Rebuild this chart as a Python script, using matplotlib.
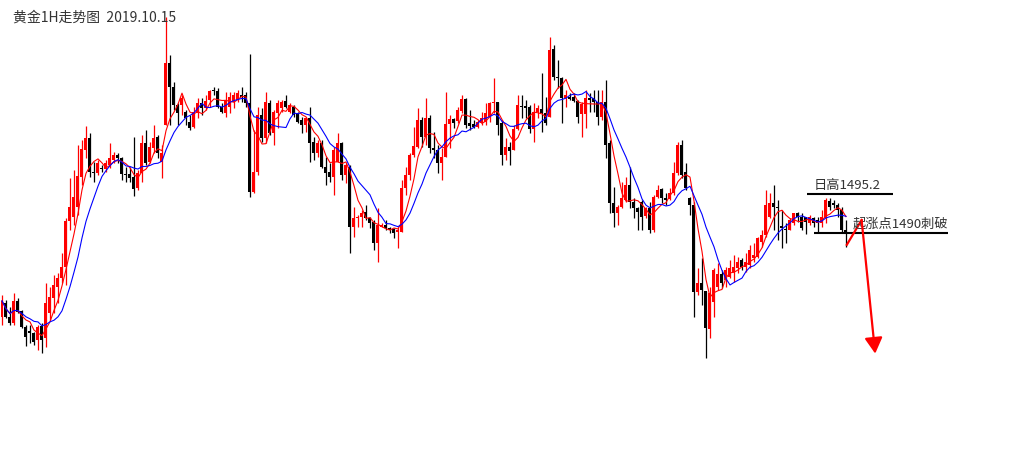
import matplotlib
matplotlib.use("Agg")
import matplotlib.pyplot as plt
import numpy as np
import pandas as pd

plt.rcParams['font.family'] = ['Noto Sans CJK SC', 'DejaVu Sans']

# gold 1H candles (one per hour)
opens = [
    1479.5, 1481.2, 1479.5, 1478.7, 1481.5, 1480.2, 1478.2, 1477.7, 1477.5, 1476.6,
    1478.4, 1476.9, 1480.0, 1481.9, 1483.2, 1484.4, 1485.7, 1491.5, 1492.0, 1493.2,
    1497.0, 1500.4, 1501.9, 1497.6, 1497.5, 1498.1, 1498.0, 1498.5, 1499.1, 1499.7,
    1499.4, 1497.4, 1497.4, 1497.0, 1495.6, 1497.5, 1501.2, 1498.9, 1500.6, 1502.0,
    1498.9, 1503.5, 1511.2, 1508.2, 1506.0, 1506.0, 1505.1, 1503.9, 1503.2, 1505.0,
    1506.2, 1505.6, 1506.6, 1507.9, 1507.7, 1505.7, 1505.0, 1505.7, 1506.4, 1506.6,
    1507.2, 1507.2, 1506.2, 1495.1, 1497.6, 1504.7, 1501.9, 1506.2, 1502.5, 1505.0,
    1505.6, 1506.5, 1505.1, 1505.7, 1505.0, 1504.1, 1503.5, 1504.4, 1501.4, 1500.0,
    1501.2, 1498.2, 1497.6, 1497.0, 1498.9, 1501.2, 1497.2, 1498.2, 1490.7, 1491.9,
    1492.0, 1492.6, 1491.9, 1491.4, 1488.7, 1490.7, 1491.0, 1490.6, 1490.5, 1490.1,
    1490.1, 1495.6, 1497.2, 1499.7, 1500.7, 1504.1, 1502.0, 1504.4, 1500.6, 1500.4,
    1498.7, 1499.5, 1503.6, 1504.2, 1504.0, 1505.2, 1506.7, 1503.7, 1503.6, 1503.2,
    1503.7, 1503.9, 1504.5, 1506.2, 1506.4, 1503.7, 1499.7, 1500.7, 1500.4, 1503.0,
    1505.9, 1505.9, 1505.7, 1503.0, 1505.1, 1505.5, 1505.0, 1504.5, 1513.0, 1509.5,
    1509.4, 1506.9, 1507.0, 1507.0, 1506.5, 1504.9, 1504.9, 1506.9, 1506.9, 1506.4,
    1504.5, 1506.4, 1501.2, 1493.7, 1492.5, 1493.2, 1494.1, 1496.0, 1493.9, 1493.1,
    1493.9, 1492.1, 1493.1, 1490.4, 1494.5, 1495.5, 1494.4, 1494.2, 1495.0, 1497.5,
    1501.0, 1497.6, 1494.4, 1493.5, 1482.6, 1483.7, 1482.7, 1478.0, 1481.4, 1483.2,
    1484.9, 1484.1, 1484.5, 1485.1, 1485.6, 1486.6, 1485.7, 1486.0, 1486.9, 1487.0,
    1488.9, 1489.7, 1492.0, 1493.7, 1493.2, 1490.9, 1490.5, 1490.4, 1491.2, 1492.5,
    1492.0, 1492.0, 1491.2, 1491.9, 1491.6, 1491.2, 1491.9, 1494.0, 1493.7, 1493.5,
    1492.9, 1490.4,
]
highs = [
    1482.2, 1481.6, 1480.7, 1482.5, 1481.9, 1480.4, 1478.5, 1478.5, 1477.6, 1478.5,
    1478.7, 1483.7, 1483.2, 1484.7, 1485.0, 1487.5, 1491.9, 1496.9, 1497.9, 1501.0,
    1501.6, 1503.4, 1502.5, 1498.9, 1499.1, 1498.5, 1499.1, 1501.2, 1500.1, 1500.0,
    1499.5, 1498.2, 1498.2, 1502.0, 1497.9, 1502.2, 1502.9, 1501.4, 1503.5, 1502.2,
    1501.0, 1517.0, 1512.2, 1508.9, 1506.2, 1507.2, 1505.4, 1504.7, 1505.7, 1506.9,
    1506.9, 1507.2, 1507.9, 1508.2, 1508.1, 1506.2, 1507.6, 1507.6, 1507.6, 1507.9,
    1508.2, 1507.6, 1512.4, 1502.9, 1505.7, 1505.6, 1507.6, 1506.6, 1505.4, 1506.6,
    1506.6, 1507.2, 1506.2, 1506.0, 1505.1, 1504.5, 1504.5, 1505.7, 1502.0, 1501.6,
    1501.6, 1499.5, 1498.7, 1500.7, 1502.5, 1501.4, 1498.7, 1498.5, 1493.2, 1492.2,
    1492.9, 1493.5, 1492.0, 1491.6, 1493.1, 1491.2, 1491.6, 1490.7, 1490.6, 1490.7,
    1496.6, 1498.2, 1500.0, 1503.2, 1505.6, 1504.5, 1506.9, 1504.7, 1502.6, 1501.0,
    1500.6, 1507.6, 1504.7, 1504.4, 1505.7, 1507.2, 1506.9, 1505.4, 1504.1, 1504.1,
    1505.1, 1506.2, 1506.4, 1509.4, 1506.4, 1504.1, 1501.9, 1501.4, 1503.5, 1507.2,
    1507.2, 1506.6, 1506.0, 1506.2, 1506.0, 1510.0, 1507.0, 1514.5, 1513.5, 1511.6,
    1509.5, 1507.9, 1507.5, 1507.5, 1506.6, 1506.4, 1507.9, 1507.5, 1507.9, 1507.9,
    1507.9, 1509.1, 1501.6, 1495.7, 1493.5, 1496.4, 1497.0, 1498.2, 1494.4, 1493.2,
    1494.1, 1493.2, 1493.9, 1494.7, 1496.0, 1495.6, 1495.0, 1495.6, 1498.9, 1501.4,
    1501.6, 1498.7, 1494.5, 1493.9, 1485.6, 1486.9, 1482.7, 1483.2, 1485.6, 1486.2,
    1485.4, 1485.7, 1486.6, 1487.2, 1487.0, 1486.9, 1487.5, 1488.5, 1488.7, 1489.5,
    1490.4, 1495.4, 1495.0, 1496.0, 1494.1, 1492.9, 1491.2, 1491.9, 1492.5, 1492.6,
    1492.5, 1492.0, 1492.2, 1492.0, 1492.0, 1492.9, 1494.4, 1494.4, 1494.1, 1493.7,
    1493.2, 1491.6,
]
lows = [
    1478.5, 1479.4, 1478.5, 1478.5, 1480.0, 1478.1, 1475.9, 1476.2, 1476.0, 1475.4,
    1475.0, 1475.7, 1479.1, 1480.0, 1481.2, 1483.7, 1483.5, 1490.4, 1491.0, 1492.2,
    1496.0, 1499.4, 1497.0, 1496.4, 1497.2, 1497.6, 1497.6, 1498.1, 1498.7, 1498.7,
    1496.6, 1496.4, 1496.4, 1494.6, 1495.4, 1496.4, 1498.5, 1498.7, 1500.0, 1499.4,
    1496.9, 1503.5, 1503.5, 1505.4, 1503.5, 1504.7, 1503.5, 1502.9, 1503.1, 1504.4,
    1504.7, 1505.4, 1505.7, 1507.2, 1505.6, 1505.0, 1504.5, 1505.0, 1505.6, 1506.4,
    1506.4, 1505.7, 1494.5, 1495.0, 1497.2, 1501.4, 1501.2, 1502.2, 1501.0, 1503.1,
    1505.1, 1505.6, 1505.0, 1504.5, 1503.7, 1502.5, 1502.6, 1498.9, 1499.1, 1499.5,
    1498.1, 1496.0, 1496.4, 1494.7, 1498.9, 1496.6, 1496.2, 1487.5, 1489.5, 1490.7,
    1490.7, 1491.6, 1490.6, 1487.9, 1486.4, 1490.7, 1490.4, 1490.0, 1489.4, 1488.1,
    1490.1, 1494.7, 1496.6, 1499.5, 1500.6, 1500.7, 1501.0, 1500.0, 1499.4, 1497.5,
    1496.6, 1499.5, 1500.6, 1503.1, 1503.7, 1505.0, 1503.1, 1502.9, 1503.1, 1503.1,
    1503.5, 1503.5, 1503.9, 1505.0, 1502.2, 1498.5, 1499.1, 1498.5, 1500.4, 1502.9,
    1504.4, 1504.4, 1502.5, 1501.4, 1504.4, 1502.6, 1503.5, 1504.5, 1509.1, 1508.1,
    1503.7, 1505.7, 1506.6, 1506.4, 1503.7, 1502.0, 1503.1, 1505.1, 1505.1, 1503.5,
    1504.1, 1499.4, 1492.5, 1490.7, 1491.0, 1493.1, 1493.9, 1493.1, 1491.9, 1490.4,
    1490.4, 1491.9, 1490.0, 1490.1, 1494.4, 1493.7, 1493.5, 1494.1, 1494.7, 1497.2,
    1496.9, 1495.4, 1492.2, 1479.5, 1482.2, 1481.0, 1474.4, 1476.9, 1479.5, 1482.9,
    1483.1, 1483.2, 1484.4, 1483.9, 1485.0, 1485.4, 1485.1, 1485.6, 1486.4, 1486.9,
    1488.2, 1489.5, 1491.9, 1490.4, 1489.1, 1488.1, 1488.7, 1490.4, 1491.0, 1491.4,
    1490.4, 1489.8, 1491.0, 1490.7, 1490.0, 1490.7, 1491.2, 1492.9, 1493.1, 1492.0,
    1490.0, 1488.2,
]
closes = [
    1481.5, 1479.5, 1478.7, 1481.5, 1480.1, 1478.2, 1477.0, 1477.5, 1476.4, 1478.2,
    1476.6, 1481.2, 1482.0, 1483.5, 1484.4, 1485.7, 1491.5, 1493.2, 1494.5, 1497.1,
    1500.5, 1501.9, 1497.6, 1497.5, 1498.7, 1498.0, 1498.7, 1499.4, 1499.7, 1499.4,
    1497.4, 1497.2, 1496.9, 1495.5, 1497.5, 1501.2, 1498.7, 1500.7, 1501.9, 1500.0,
    1500.0, 1511.2, 1508.2, 1506.0, 1505.0, 1506.9, 1504.4, 1503.1, 1505.1, 1506.2,
    1505.6, 1506.5, 1507.7, 1507.7, 1505.7, 1505.1, 1506.6, 1507.0, 1507.2, 1507.5,
    1507.0, 1506.2, 1495.1, 1497.6, 1504.7, 1501.9, 1506.4, 1502.5, 1505.1, 1506.2,
    1506.4, 1505.7, 1506.0, 1504.7, 1503.9, 1503.5, 1504.4, 1501.2, 1500.0, 1501.2,
    1498.2, 1497.5, 1497.0, 1500.4, 1501.2, 1497.2, 1498.5, 1490.7, 1491.9, 1492.0,
    1492.5, 1491.9, 1491.2, 1488.7, 1491.0, 1491.0, 1490.6, 1490.4, 1490.0, 1490.4,
    1495.6, 1497.2, 1499.7, 1500.9, 1504.1, 1502.0, 1504.4, 1500.6, 1500.4, 1498.7,
    1499.5, 1503.6, 1504.2, 1503.7, 1505.4, 1506.7, 1503.5, 1503.4, 1503.2, 1503.9,
    1504.4, 1505.0, 1506.2, 1506.4, 1503.5, 1499.7, 1500.7, 1500.2, 1503.0, 1506.0,
    1505.7, 1505.6, 1503.0, 1505.1, 1505.6, 1505.0, 1503.7, 1512.9, 1509.5, 1509.4,
    1506.9, 1507.2, 1506.7, 1506.5, 1504.5, 1506.1, 1506.9, 1506.6, 1506.4, 1504.5,
    1506.4, 1501.0, 1493.7, 1492.5, 1493.2, 1494.4, 1496.0, 1493.9, 1493.1, 1492.6,
    1492.0, 1493.1, 1490.4, 1494.5, 1495.4, 1494.4, 1494.1, 1495.0, 1497.5, 1501.0,
    1497.2, 1495.6, 1493.5, 1482.6, 1483.7, 1482.9, 1478.1, 1482.5, 1485.4, 1484.9,
    1483.7, 1485.4, 1485.6, 1485.7, 1486.4, 1485.7, 1486.4, 1487.9, 1487.2, 1489.4,
    1489.7, 1493.5, 1493.7, 1493.2, 1493.1, 1490.6, 1490.4, 1491.6, 1492.5, 1492.0,
    1490.6, 1491.4, 1492.0, 1491.2, 1491.2, 1492.0, 1494.1, 1493.2, 1493.5, 1492.9,
    1490.4, 1490.1,
]

TITLE = "黄金1H走势图  2019.10.15"
LEVELS = [1494.9, 1490.0]
LEVEL_START = [201.25, 203.0]
LEVEL_END = [222.75, 236.5]
LEVEL_TEXT = ["日高1495.2", "起涨点1490刺破"]
TEXT_X = [203.0, 212.75]
TEXT_Y = [1495.1, 1490.3]
ARROW_X = [211.2, 214.9, 218.3]
ARROW_Y = [1488.5, 1491.6, 1474.9]

o = np.array(opens)
h = np.array(highs)
l = np.array(lows)
c = np.array(closes)
print(len(o), len(h), len(l), len(c))
idx = np.arange(len(c))
col = np.where(c > o, '#ff0000', '#000000')

fig = plt.figure(figsize=(10.19, 4.55), dpi=100)
ax = fig.add_axes([0, 0, 1, 1])

ax.vlines(idx, l, h, colors=col, linewidth=0.9)
body = np.maximum(np.abs(c - o), 0.13)
ax.bar(idx, body, bottom=np.minimum(o, c), width=0.75, color=col, linewidth=0)

ma5 = pd.Series(c).rolling(5, min_periods=1).mean()
ma10 = pd.Series(c).rolling(10, min_periods=1).mean()
ax.plot(idx, ma5, color='#ff0000', linewidth=0.8)
ax.plot(idx, ma10, color='#0000ff', linewidth=0.8)

ax.hlines(LEVELS, LEVEL_START, LEVEL_END, colors='black', linewidth=1.5)
for tx, ty, s in zip(TEXT_X, TEXT_Y, LEVEL_TEXT):
    ax.text(tx, ty, s, fontsize=9.5, color='#333333', ha='left', va='bottom')

ax.plot(ARROW_X[:2], ARROW_Y[:2], color='#ff0000', linewidth=1.6)
ax.annotate('', xy=(ARROW_X[2], ARROW_Y[2]), xytext=(ARROW_X[1], ARROW_Y[1]),
            arrowprops=dict(arrowstyle='-|>,head_length=0.8,head_width=0.45',
                            color='#ff0000', lw=1.6, shrinkA=0, shrinkB=0,
                            mutation_scale=12))

fig.text(13 / 1019, 1 - 17.5 / 455, TITLE, fontsize=10, color='#333333',
         ha='left', va='center')

ax.set_xlim(-0.5, -0.5 + 1019 / 4)
ax.set_ylim(1519.1 - 455 / 8, 1519.1)
ax.axis('off')

fig.savefig('out.png', dpi=100)
